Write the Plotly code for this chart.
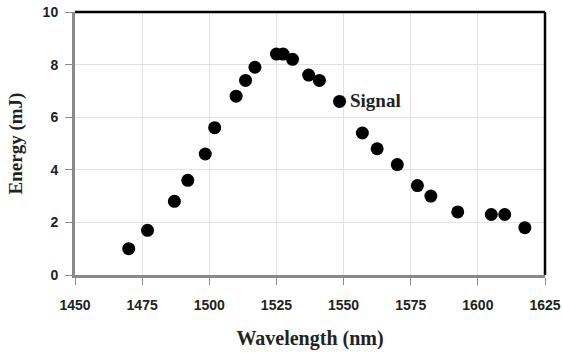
import plotly.graph_objects as go

wavelength = [1470, 1477, 1487, 1492, 1498.5, 1502, 1510, 1513.5, 1517, 1525, 1527.5,
              1531, 1537, 1541, 1548.5, 1557, 1562.5, 1570, 1577.5, 1582.5, 1592.5,
              1605, 1610, 1617.5]
energy = [1.0, 1.7, 2.8, 3.6, 4.6, 5.6, 6.8, 7.4, 7.9, 8.4, 8.4,
          8.2, 7.6, 7.4, 6.6, 5.4, 4.8, 4.2, 3.4, 3.0, 2.4,
          2.3, 2.3, 1.8]
x_ticks = [1450, 1475, 1500, 1525, 1550, 1575, 1600, 1625]
y_ticks = [0, 2, 4, 6, 8, 10]
label_text = "Signal"
label_index = 14

fig = go.Figure()
fig.add_trace(go.Scatter(x=wavelength, y=energy, mode="markers",
                         marker=dict(color="black", size=13), showlegend=False))

fig.add_annotation(x=wavelength[label_index], y=energy[label_index], text="<b>%s</b>" % label_text,
                   showarrow=False, xanchor="left", xshift=8, yshift=1,
                   font=dict(family="Liberation Serif", size=19, color="#222"))

axis_common = dict(showgrid=True, gridcolor="#e2e2e2", gridwidth=1,
                   showline=True, linecolor="#8a8a8a", linewidth=3,
                   ticks="outside", ticklen=7, tickcolor="#8a8a8a", tickwidth=1,
                   zeroline=False,
                   tickfont=dict(family="Liberation Sans", size=14, color="#222", weight="bold"))

fig.update_xaxes(range=[1450, 1625], tickvals=x_ticks, ticklabelstandoff=8,
                 title=dict(text="<b>Wavelength (nm)</b>", standoff=20,
                            font=dict(family="Liberation Serif", size=20, color="#222")),
                 **axis_common)
fig.update_yaxes(range=[0, 10], tickvals=y_ticks, ticklabelstandoff=4,
                 title=dict(text="<b>Energy (mJ)</b>", standoff=15,
                            font=dict(family="Liberation Serif", size=19, color="#222")),
                 **axis_common)

fig.add_shape(type="line", xref="paper", yref="paper", x0=0, x1=1, y0=1, y1=1,
              line=dict(color="black", width=2.5))
fig.add_shape(type="line", xref="paper", yref="paper", x0=1, x1=1, y0=0, y1=1,
              line=dict(color="black", width=2.5))

fig.update_layout(width=563, height=354, margin=dict(l=75, r=18, t=12, b=79, autoexpand=False),
                  plot_bgcolor="white", paper_bgcolor="white")

fig.write_html("out.html", config={"displayModeBar": False},
               post_script="document.body.style.margin='0';document.body.style.overflow='hidden';")
